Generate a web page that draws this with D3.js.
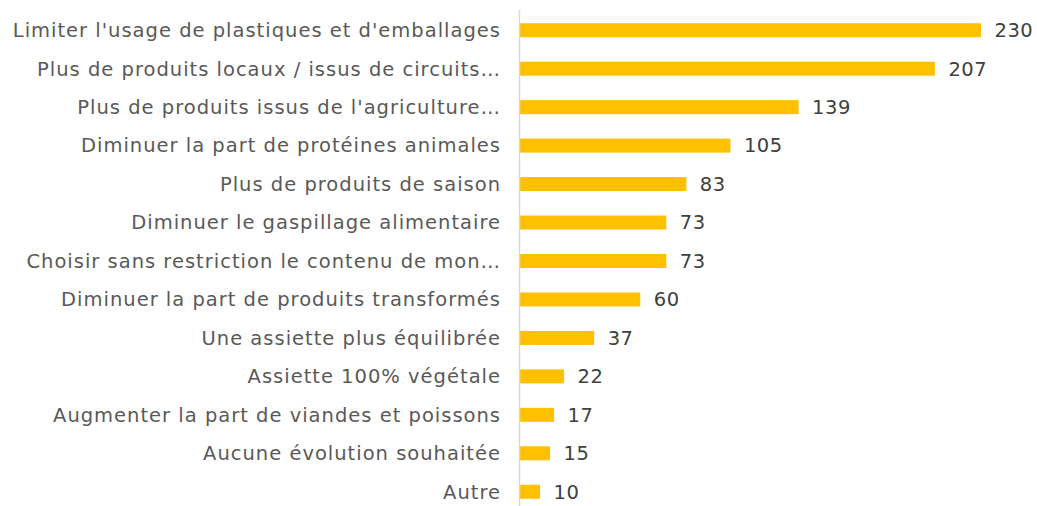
<!DOCTYPE html>
<html>
<head>
<meta charset="utf-8">
<script src="https://cdn.jsdelivr.net/npm/d3@7"></script>
<style>
  html, body { margin: 0; padding: 0; background: #ffffff; }
  svg { display: block; }
</style>
</head>
<body>
<svg id="chart" width="1037" height="506"></svg>
<script>
// Souhaits d'évolution de l'assiette (nombre de réponses)
const categories = [
  "Limiter l'usage de plastiques et d'emballages",
  "Plus de produits locaux / issus de circuits…",
  "Plus de produits issus de l'agriculture…",
  "Diminuer la part de protéines animales",
  "Plus de produits de saison",
  "Diminuer le gaspillage alimentaire",
  "Choisir sans restriction le contenu de mon…",
  "Diminuer la part de produits transformés",
  "Une assiette plus équilibrée",
  "Assiette 100% végétale",
  "Augmenter la part de viandes et poissons",
  "Aucune évolution souhaitée",
  "Autre"
];
const values = [230, 207, 139, 105, 83, 73, 73, 60, 37, 22, 17, 15, 10];

const svg = d3.select("#chart");
const axisX = 519.5;
const font = "'DejaVu Sans', Verdana, sans-serif";

const x = d3.scaleLinear().domain([0, 230]).range([axisX, 980.5]);
const y = d3.scaleBand().domain(categories).range([11, 511]).paddingInner(0.64).paddingOuter(0.32);

// bars
svg.append("g").selectAll("rect")
  .data(values)
  .join("rect")
  .attr("x", x(0) + 0.5)
  .attr("y", (d, i) => y(categories[i]) + y.bandwidth() / 2 - 7)
  .attr("width", d => x(d) - x(0))
  .attr("height", 14)
  .attr("fill", "#FFC000");

// category axis line
svg.append("line")
  .attr("x1", axisX).attr("x2", axisX)
  .attr("y1", 10).attr("y2", 506)
  .attr("stroke", "#d9d9d9")
  .attr("stroke-width", 1.5);

// category labels
svg.append("g").selectAll("text")
  .data(categories)
  .join("text")
  .attr("x", 501)
  .attr("y", d => y(d) + y.bandwidth() / 2)
  .attr("dy", "0.35em")
  .attr("text-anchor", "end")
  .attr("font-family", font)
  .attr("font-size", 19.5)
  .attr("letter-spacing", 1)
  .attr("fill", "#595959")
  .text(d => d);

// value labels
svg.append("g").selectAll("text")
  .data(values)
  .join("text")
  .attr("x", d => x(d) + 14)
  .attr("y", (d, i) => y(categories[i]) + y.bandwidth() / 2)
  .attr("dy", "0.35em")
  .attr("font-family", font)
  .attr("font-size", 19.5)
  .attr("letter-spacing", 0.5)
  .attr("fill", "#404040")
  .text(d => d);
</script>
</body>
</html>
